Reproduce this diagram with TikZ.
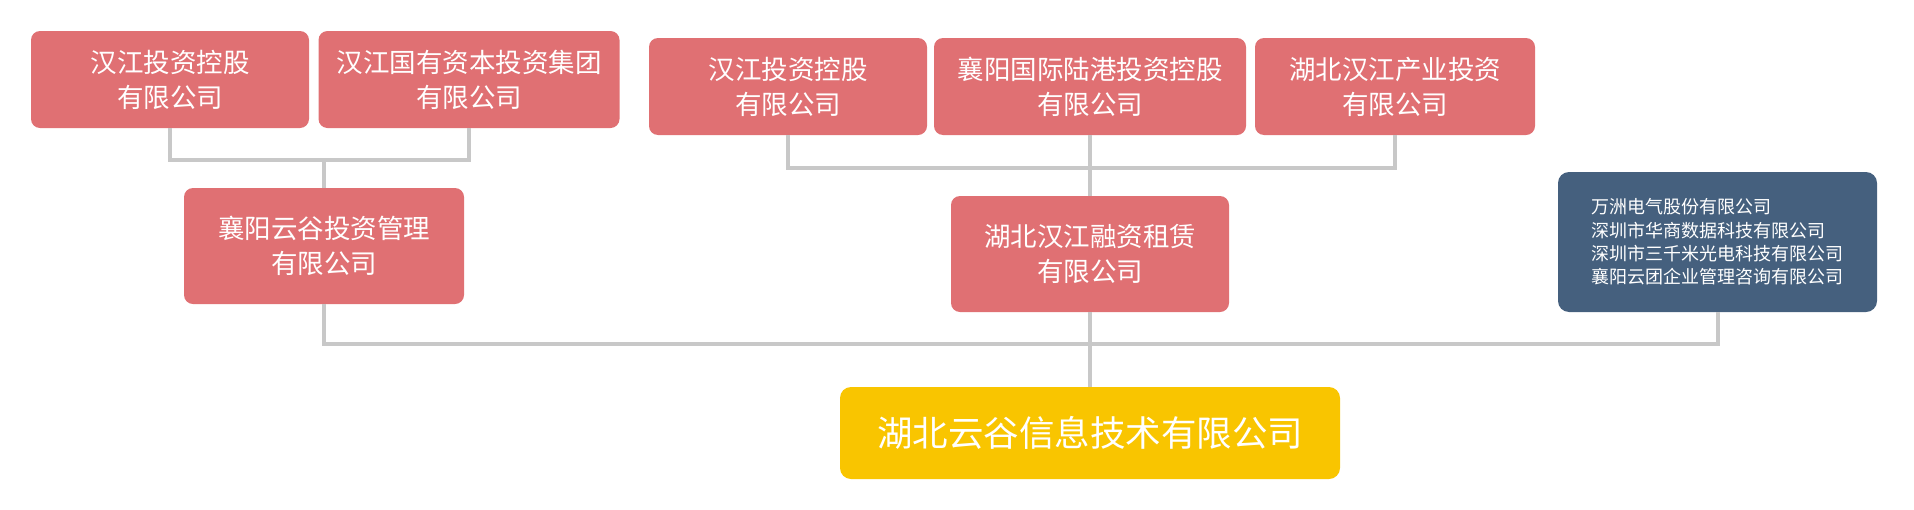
\documentclass[tikz,border=0pt]{standalone}
\usepackage{fontspec}
\newfontfamily\cjk{Noto Sans CJK SC}
\definecolor{pinkbox}{HTML}{E07073}
\definecolor{bluebox}{HTML}{45607E}
\definecolor{yellowbox}{HTML}{F9C500}
\definecolor{linegray}{HTML}{C8C8C8}
\tikzset{
  pbox/.style={fill=pinkbox, draw=none, rounded corners=9pt, text=white, align=center, inner sep=0pt,
    font=\cjk\fontsize{26.5}{35}\selectfont},
  bbox/.style={fill=bluebox, draw=none, rounded corners=11pt, text=white, align=left, inner sep=0pt,
    font=\cjk\fontsize{18}{23.3}\selectfont},
  ybox/.style={fill=yellowbox, draw=none, rounded corners=11pt, text=white, align=center, inner sep=0pt,
    font=\cjk\fontsize{35.5}{42}\selectfont},
  conn/.style={draw=linegray, line width=4pt},
}
\begin{document}
\begin{tikzpicture}[x=1pt,y=-1pt]
\useasboundingbox (0,0) rectangle (1914,509);
% nodes
\node[pbox, minimum width=278pt, minimum height=97pt] (A1) at (170,79.5) {汉江投资控股\\有限公司};
\node[pbox, minimum width=301pt, minimum height=97pt] (A2) at (469,79.5) {汉江国有资本投资集团\\有限公司};
\node[pbox, minimum width=280pt, minimum height=116pt] (B) at (324,246) {襄阳云谷投资管理\\有限公司};
\node[pbox, minimum width=278pt, minimum height=97pt] (C1) at (788,86.5) {汉江投资控股\\有限公司};
\node[pbox, minimum width=312pt, minimum height=97pt] (C2) at (1090,86.5) {襄阳国际陆港投资控股\\有限公司};
\node[pbox, minimum width=280pt, minimum height=97pt] (C3) at (1395,86.5) {湖北汉江产业投资\\有限公司};
\node[pbox, minimum width=278pt, minimum height=116pt] (D) at (1090,254) {湖北汉江融资租赁\\有限公司};
\node[bbox, minimum width=319pt, minimum height=140pt] (E) at (1717.5,242) {万洲电气股份有限公司\\深圳市华商数据科技有限公司\\深圳市三千米光电科技有限公司\\襄阳云团企业管理咨询有限公司};
\node[ybox, minimum width=500pt, minimum height=92pt] (Y) at (1090,433) {湖北云谷信息技术有限公司};
% junctions
\coordinate (j1) at (324,160);
\coordinate (j2) at (1090,168);
\coordinate (j3) at (1090,344);
% connectors
\draw[conn] (A1.south) |- (j1) -| (A2.south);
\draw[conn] (j1) -- (B.north);
\draw[conn] (C1.south) |- (j2) -| (C3.south);
\draw[conn] (C2.south) -- (D.north);
\draw[conn] (B.south) |- (j3) -| (E.south);
\draw[conn] (D.south) -- (Y.north);
\end{tikzpicture}
\end{document}
